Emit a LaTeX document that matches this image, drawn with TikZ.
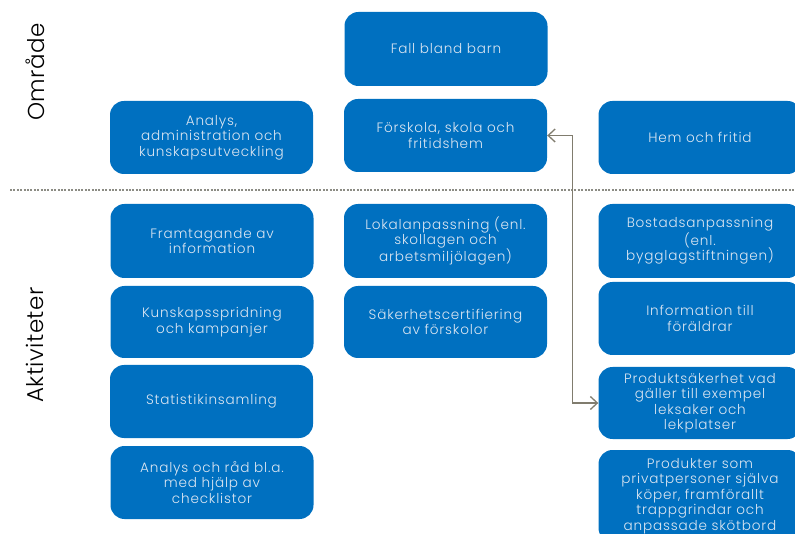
\documentclass[tikz,border=0pt]{standalone}
\usepackage{fontspec}
\setmainfont{Poppins}[UprightFont=* Light]
\newfontfamily\boxfont{Poppins}[UprightFont=* Light,LetterSpace=6]
\usetikzlibrary{arrows.meta}
\definecolor{boxblue}{RGB}{0,112,192}
\definecolor{boxtext}{RGB}{220,230,242}
\definecolor{arrgray}{RGB}{128,124,110}
\definecolor{dotgray}{RGB}{140,140,132}
\tikzset{
  blue box/.style={fill=boxblue,rounded corners=14pt,minimum width=203pt,inner xsep=2pt,
    text width=196pt,align=center,text=boxtext,font=\boxfont\fontsize{13.6}{15.5}\selectfont},
  side label/.style={rotate=90,font=\fontsize{23}{26}\selectfont\addfontfeature{LetterSpace=2}}
}
\begin{document}
\begin{tikzpicture}[x=1pt,y=-1pt]
    \useasboundingbox (0,0) rectangle (795,534);
    % labels on the left
    \node[side label] (omrade) at (35,72) {Område};
    \node[side label] (aktiv) at (35,345) {Aktiviteter};
    \draw[dotgray,line width=2.2pt,dash pattern=on 2pt off 1.4pt] (10,190) -- (795,190);
    % Område row
    \node[blue box,minimum height=74pt] (fall) at (446,49) {Fall bland barn};
    \node[blue box,minimum height=73pt] (analys) at (211.5,137.5) {Analys,\\administration och\\kunskapsutveckling};
    \node[blue box,minimum height=73pt] (forskola) at (445.5,135.5) {Förskola, skola och\\fritidshem};
    \node[blue box,minimum height=73pt] (hem) at (700,137.5) {Hem och fritid};
    % Aktiviteter, left column
    \node[blue box,minimum height=74pt] (framtag) at (212,241) {Framtagande av\\information};
    \node[blue box,minimum height=72pt] (kunskap) at (212,322) {Kunskapsspridning\\och kampanjer};
    \node[blue box,minimum height=73pt] (statistik) at (211.5,401.5) {Statistikinsamling};
    \node[blue box,minimum height=73pt] (analysrad) at (212,482.5) {Analys och råd bl.a.\\med hjälp av\\checklistor};
    % middle column
    \node[blue box,minimum height=74pt] (lokal) at (445.5,241) {Lokalanpassning (enl.\\skollagen och\\arbetsmiljölagen)};
    \node[blue box,minimum height=72pt] (saker) at (445.5,322) {Säkerhetscertifiering\\av förskolor};
    % right column
    \node[blue box,minimum height=74pt] (bostad) at (700,241) {Bostadsanpassning\\(enl.\\bygglagstiftningen)};
    \node[blue box,minimum height=73pt] (infor) at (700,318.5) {Information till\\föräldrar};
    \node[blue box,minimum height=72pt] (produkt) at (700,403) {Produktsäkerhet vad\\gäller till exempel\\leksaker och\\lekplatser};
    \node[blue box,minimum height=92pt] (privat) at (700,496) {Produkter som\\privatpersoner själva\\köper, framförallt\\trappgrindar och\\anpassade skötbord};
    % connector
    \draw[arrgray,line width=1.3pt,{Straight Barb[length=7pt,width=13pt]}-{Straight Barb[length=7pt,width=13pt]}]
      (forskola.east) -- ++(25,0) |- (produkt.west);
\end{tikzpicture}
\end{document}
